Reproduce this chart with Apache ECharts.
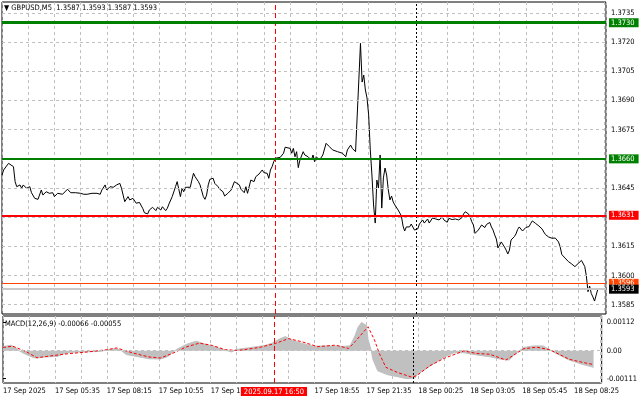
<!DOCTYPE html>
<html><head><meta charset="utf-8">
<script src="https://cdn.jsdelivr.net/npm/echarts@6/dist/echarts.min.js"></script>
<style>html,body{margin:0;padding:0;background:#fff}#c{width:640px;height:401px}</style>
</head><body><div id="c"></div>
<script>
// ---------- data ----------
const symbolTitle = '\u25BC GBPUSD,M5  1.3587 1.3593 1.3587 1.3593';
const macdTitle = 'MACD(12,26,9) -0.00066 -0.00055';
// x tick labels, one per 32 bars (bar 0 = 17 Sep 02:55, M5)
const timeLabels = ['17 Sep 2025','17 Sep 05:35','17 Sep 08:15','17 Sep 10:55','17 Sep 13:35','17 Sep 16:15',
  '17 Sep 18:55','17 Sep 21:35','18 Sep 00:25','18 Sep 03:05','18 Sep 05:45','18 Sep 08:25'];
const priceTicks = [1.3735,1.3720,1.3705,1.3690,1.3675,1.3660,1.3645,1.3630,1.3615,1.3600,1.3585];
const macdTicks = [0.00112, 0, -0.00111];
// horizontal levels: resistance, level, support, alert, bid
const levelValues = [1.3730, 1.3660, 1.3631, 1.3596, 1.3593];
const levelLabels = ['1.3730','1.3660','1.3631','1.3596','1.3593'];
const markerBar = 167;            // 2025.09.17 16:50
const markerLabel = '2025.09.17 16:50';
const daySeparatorBar = 253;      // 18 Sep 00:00

const priceIdx = [0,1,4,5,7,8,9,11,12,13,15,17,18,20,21,22,24,25,27,29,31,32,34,37,38,40,42,45,48,50,52,55,58,60,61,62,63,64,66,68,70,72,73,74,75,77,78,80,82,83,84,86,87,89,90,92,94,95,97,98,100,101,102,104,105,106,107,108,109,110,111,112,113,115,116,117,118,120,121,123,124,125,126,127,129,130,132,133,135,136,138,139,140,142,143,145,146,148,149,150,152,154,155,157,159,160,162,163,164,165,166,167,168,170,172,173,174,176,177,178,179,180,181,182,184,185,187,189,190,191,192,194,196,198,200,202,205,208,210,211,213,214,215,216,217,
218,219,220,221,222,223,224,225,226,227,228,229,230,231,232,233,234,235,236,237,238,239,240,241,242,243,244,245,246,247,248,249,250,251,252,253,254,255,256,257,258,259,260,261,262,263,264,265,266,267,268,269,270,
271,272,273,274,275,276,277,278,279,280,281,282,283,284,285,286,287,288,289,290,291,292,293,294,295,296,297,298,299,300,301,302,303,304,305,306,307,308,309,310,311,312,313,314,315,316,317,318,319,320,
321,322,323,324,325,326,327,328,329,330,331,332,333,334,335,336,337,338,339,340,341,342,343,344,345,346,347,348,349,350,351,352,353,354,355,356,357,358,359,360,361,362,363,364];
const priceVal = [1.36517,1.36543,1.36577,1.36580,1.36560,1.36483,1.36457,1.36466,1.36449,1.36466,1.36449,1.36457,1.36426,1.36397,1.36406,1.36392,1.36440,1.36414,1.36431,1.36423,1.36426,1.36406,1.36423,1.36418,1.36426,1.36444,1.36426,1.36426,1.36423,1.36418,1.36418,1.36423,1.36423,1.36418,1.36440,1.36444,1.36466,1.36440,1.36457,1.36454,1.36466,1.36474,1.36449,1.36414,1.36380,1.36406,1.36389,1.36397,1.36372,1.36363,1.36376,1.36345,1.36323,1.36317,1.36337,1.36351,1.36334,1.36351,1.36337,1.36354,1.36334,1.36346,1.36368,1.36406,1.36397,1.36457,1.36483,1.36478,1.36406,1.36449,1.36431,1.36454,1.36444,1.36454,1.36491,1.36526,1.36508,1.36483,1.36466,1.36406,1.36392,1.36414,1.36466,1.36495,1.36500,1.36474,1.36457,1.36444,1.36431,1.36409,1.36423,1.36414,1.36440,1.36483,1.36491,1.36466,1.36444,1.36426,1.36457,1.36423,1.36491,1.36483,1.36508,1.36522,1.36543,1.36529,1.36526,1.36500,1.36543,1.36560,1.36585,1.36603,1.36611,1.36608,1.36629,1.36660,1.36663,1.36654,1.36629,1.36654,1.36611,1.36637,1.36555,1.36594,1.36637,1.36620,1.36611,1.36594,1.36620,1.36585,1.36611,1.36594,1.36620,1.36680,1.36663,1.36646,1.36637,1.36629,1.36611,1.36646,1.36671,1.36654,1.36663,1.36637,1.36646,
1.37006,1.37194,1.36995,1.37031,1.36954,1.36913,1.36826,1.36646,1.36517,1.36363,1.36270,1.36491,1.36450,1.36620,1.36347,1.36502,1.36553,1.36517,1.36440,1.36389,1.36409,1.36378,1.36363,1.36355,1.36337,1.36322,1.36306,1.36255,1.36229,1.36250,1.36260,1.36250,1.36265,1.36270,1.36234,1.36229,1.36240,1.36265,1.36255,1.36286,1.36270,1.36260,1.36291,1.36270,1.36265,1.36296,1.36286,1.36291,1.36299,1.36286,1.36286,1.36301,1.36286,
1.36294,1.36274,1.36294,1.36286,1.36288,1.36294,1.36291,1.36291,1.36286,1.36291,1.36298,1.36317,1.36328,1.36325,1.36317,1.36301,1.36277,1.36260,1.36217,1.36222,1.36234,1.36247,1.36260,1.36250,1.36247,1.36263,1.36270,1.36273,1.36250,1.36234,1.36209,1.36188,1.36142,1.36157,1.36173,1.36165,1.36147,1.36131,1.36111,1.36131,1.36183,1.36193,1.36200,1.36214,1.36237,1.36250,1.36245,1.36229,1.36225,1.36247,
1.36247,1.36252,1.36268,1.36281,1.36275,1.36268,1.36264,1.36255,1.36247,1.36239,1.36224,1.36211,1.36201,1.36198,1.36196,1.36192,1.36192,1.36193,1.36190,1.36173,1.36148,1.36108,1.36100,1.36090,1.36080,1.36072,1.36066,1.36060,1.36051,1.36046,1.36054,1.36062,1.36070,1.36078,1.36070,1.36047,1.35998,1.35917,1.35946,1.35908,1.35890,1.35869,1.35900,1.35930];

const histIdx = [0,5,8,10,12,15,19,21,25,29,34,37,42,52,60,64,70,73,76,84,90,97,101,104,107,113,119,125,131,137,141,144,152,161,166,170,174,179,185,191,200,210,214,217,219,221,224,225,227,228,231,237,243,249,254,255,260,266,272,278,284,292,300,307,312,316,321,327,333,337,341,349,357,364];
const histVal = [0.00016,0.00022,0.00010,0,-0.00008,-0.00017,-0.00028,-0.00029,-0.00025,-0.00024,-0.00022,-0.00012,-0.00006,-0.00004,-0.00003,0.00003,0.00008,0,-0.00015,-0.00025,-0.00032,-0.00033,-0.00025,-0.00010,0.00005,0.00025,0.00038,0.00025,0.00015,0.00002,-0.00005,0.00005,0.00012,0.00020,0.00030,0.00045,0.00056,0.00040,0.00028,0.00018,0.00019,0.00017,0.00020,0.00060,0.00095,0.00112,0.00100,0.00045,0,-0.00035,-0.00080,-0.00095,-0.00103,-0.00111,-0.00108,-0.00095,-0.00075,-0.00049,-0.00025,-0.00008,-0.00008,-0.00017,-0.00024,-0.00034,-0.00037,-0.00011,0.00013,0.00019,0.00019,0.00003,-0.00011,-0.00037,-0.00054,-0.00066];
const sigIdx = [0,6,14,21,29,40,52,64,70,80,90,97,104,113,121,129,137,145,158,168,176,184,194,205,213,217,225,229,232,236,243,252,255,263,272,284,292,300,310,321,329,337,349,357,364];
const sigVal = [0.00013,0.00018,-0.00003,-0.00028,-0.00021,-0.00012,-0.00005,0.00004,0.00011,-0.00009,-0.00025,-0.00029,-0.00012,0.00015,0.00030,0.00021,0.00004,0.00001,0.00013,0.00029,0.00048,0.00036,0.00016,0.00022,0.00009,0.00036,0.00095,0.00042,-0.00012,-0.00066,-0.00086,-0.00105,-0.00099,-0.00060,-0.00030,-0.00001,-0.00011,-0.00014,-0.00037,0.00008,0.00014,0.00004,-0.00034,-0.00046,-0.00055];

// ---------- styling ----------
const FONT = "'DejaVu Sans Condensed', 'Liberation Sans', sans-serif";
const FS = 7.5;
const gridLine = {color:'#c0c0c0', type:[3,3], width:1};
const markerLine = {color:'#ff0000', type:[5,3], width:1, opacity:1};
const separatorLine = {color:'#000000', type:[2,2], width:1, opacity:1};
const levelStyles = [
  {color:'#008000', width:3, bg:'#008000'},
  {color:'#008000', width:2, bg:'#008000'},
  {color:'#ff0000', width:2, bg:'#ff0000'},
  {color:'#ff4500', width:1, bg:'#ff4500'},
  {color:'#c8c8c8', width:2, bg:'#000000'}
];
const pricePairs = priceIdx.map((x,k)=>[x, priceVal[k]]);
const histPairs = histIdx.map((x,k)=>[x, histVal[k]]);
const sigPairs = sigIdx.map((x,k)=>[x, sigVal[k]]);

const priceMarks = [];
priceTicks.forEach(v=>priceMarks.push({yAxis:v, lineStyle:gridLine, label:{show:false}}));
priceMarks.push({xAxis:daySeparatorBar, lineStyle:separatorLine, label:{show:false}});
priceMarks.push({xAxis:markerBar, lineStyle:markerLine, label:{show:false}});
levelValues.forEach((v,k)=>{
  const s = levelStyles[k];
  priceMarks.push({yAxis:v, lineStyle:{color:s.color, width:s.width, type:'solid'},
    label:{show:true, position:'end', distance:3, formatter:levelLabels[k], color:'#fff',
      backgroundColor:s.bg, padding:[1,4,0,2], fontSize:FS, fontFamily:FONT, lineHeight:8}});
});

const xCommon = {type:'value', min:0, max:369, interval:16,
  axisLine:{show:false}, axisTick:{show:false}, splitLine:{show:true, lineStyle:gridLine}};

const chart = echarts.init(document.getElementById('c'), null, {renderer:'canvas'});
chart.setOption({
  animation:false,
  backgroundColor:'#fff',
  title:[
    {text:symbolTitle, left:4, top:4, padding:0, textStyle:{fontSize:FS, fontWeight:'normal', color:'#000', fontFamily:FONT}},
    {text:macdTitle, left:5, top:320, padding:0, textStyle:{fontSize:FS, fontWeight:'normal', color:'#000', fontFamily:FONT}}
  ],
  grid:[
    {left:2, top:2, width:604, height:312, show:true, borderColor:'#000', borderWidth:1, backgroundColor:'#fff'},
    {left:2, top:316, width:604, height:67, show:true, borderColor:'#000', borderWidth:1, backgroundColor:'#fff'}
  ],
  xAxis:[
    Object.assign({gridIndex:0, axisLabel:{show:false}}, xCommon),
    Object.assign({gridIndex:1, axisLabel:{show:true, align:'left', margin:4, color:'#000', fontSize:FS, fontFamily:FONT,
      formatter:v=> (v % 32 === 0 && timeLabels[v/32]) ? timeLabels[v/32] : ''}}, xCommon)
  ],
  yAxis:[
    {gridIndex:0, type:'value', position:'right', min:1.358024, max:1.374066,
      axisLine:{show:false}, splitLine:{show:false},
      axisTick:{show:true, length:3, customValues:priceTicks, lineStyle:{color:'#000'}},
      axisLabel:{customValues:priceTicks, margin:5, color:'#000', fontSize:FS, fontFamily:FONT, formatter:v=>v.toFixed(4)}},
    {gridIndex:1, type:'value', position:'right', min:-0.001282, max:0.001378,
      axisLine:{show:false}, splitLine:{show:false},
      axisTick:{show:true, length:3, customValues:macdTicks, lineStyle:{color:'#000'}},
      axisLabel:{customValues:macdTicks, margin:5, color:'#000', fontSize:FS, fontFamily:FONT,
        formatter:v=> v===0 ? '0.00' : v.toFixed(5)}}
  ],
  series:[
    {type:'line', name:'GBPUSD', xAxisIndex:0, yAxisIndex:0, data:pricePairs, symbol:'none', clip:false,
      lineStyle:{color:'#000', width:1}, z:3,
      markLine:{silent:true, precision:8, symbol:['none','none'], animation:false, data:priceMarks}},
    {type:'line', name:'MACD', xAxisIndex:1, yAxisIndex:1, data:histPairs, symbol:'none', clip:false,
      lineStyle:{color:'#c0c0c0', width:1}, areaStyle:{color:'#c0c0c0', opacity:1}, z:2,
      markLine:{silent:true, precision:8, symbol:['none','none'], animation:false, data:[
        {yAxis:0, lineStyle:gridLine, label:{show:false}},
        {xAxis:daySeparatorBar, lineStyle:separatorLine, label:{show:false}},
        {xAxis:markerBar, lineStyle:markerLine,
          label:{show:true, position:'start', distance:4, formatter:markerLabel, color:'#fff', backgroundColor:'#ff0000',
            padding:[1,3,0,3], fontSize:FS, fontFamily:FONT, lineHeight:8}}
      ]}},
    {type:'line', name:'Signal', xAxisIndex:1, yAxisIndex:1, data:sigPairs, symbol:'none',
      lineStyle:{color:'#ff0000', width:1, type:[3,2]}, z:3}
  ]
});
</script></body></html>
